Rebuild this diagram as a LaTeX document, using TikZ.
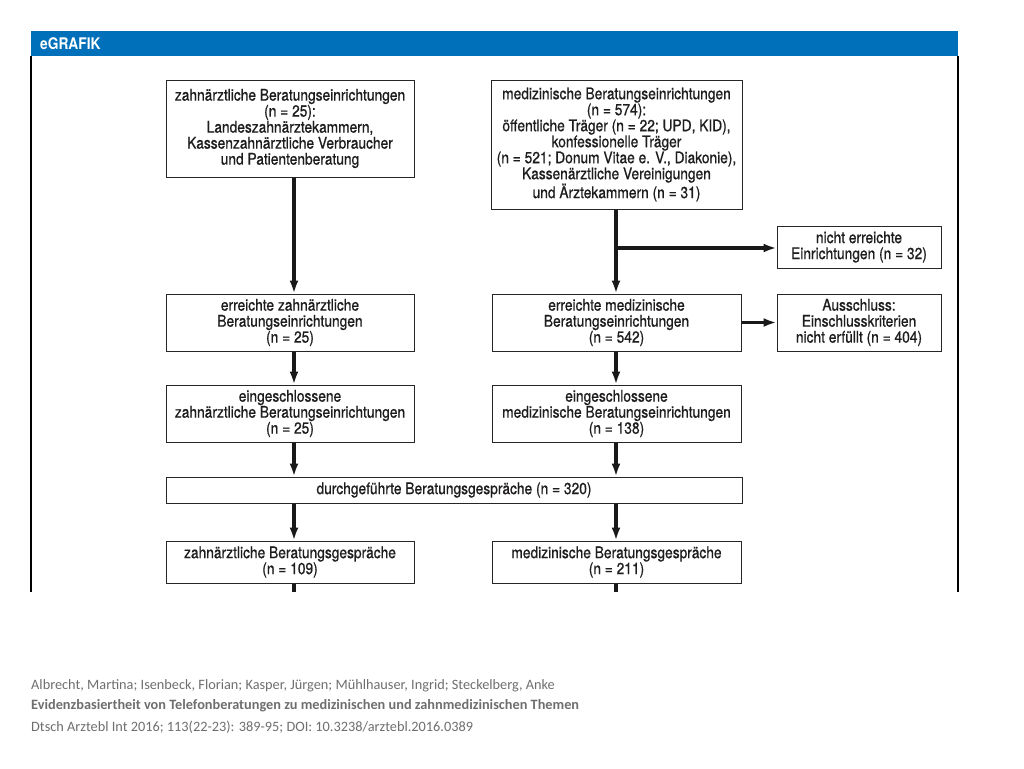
\documentclass[tikz,border=0pt]{standalone}
\usepackage{fontspec}
\setmainfont[FakeStretch=0.86]{TeX Gyre Heros}
\newfontfamily\boxfont[FakeStretch=0.86,FakeBold=0.8]{TeX Gyre Heros}
\newfontfamily\footfont{Carlito}
\usetikzlibrary{arrows.meta}
\definecolor{hdrblue}{RGB}{0,112,186}
\definecolor{boxtext}{RGB}{30,28,28}
\definecolor{footgray}{RGB}{110,110,110}
\tikzset{
  box/.style={draw=black!85, line width=1pt, fill=white, inner sep=0pt, align=center,
    font=\boxfont\fontsize{16}{16}\selectfont, text=boxtext},
  arr/.style={line width=3.2pt, black!90, -{Latex[length=13pt,width=9pt]}},
  plainln/.style={line width=3.2pt, black!90},
  frameln/.style={line width=1.4pt, black},
  foot/.style={anchor=west, inner sep=0pt, text=footgray, font=\footfont\fontsize{14.3}{16}\selectfont}
}
\begin{document}
\begin{tikzpicture}[x=1pt,y=-1pt]
\useasboundingbox (0,0) rectangle (1024,768);
% frame and header
\draw[frameln] (31,56) -- (31,592);
\draw[frameln] (958,56) -- (958,592);
\fill[hdrblue] (31,31) rectangle (958,56);
\node[anchor=west, text=white, inner sep=0pt, font=\bfseries\fontsize{16}{16}\selectfont] (hdr) at (40,44) {eGRAFIK};
% boxes
\node[box, minimum width=248pt, minimum height=97pt] (A) at (290,128.5)
 {zahnärztliche Beratungseinrichtungen\\(n = 25):\\Landeszahnärztekammern,\\Kassenzahnärztliche Verbraucher\\und Patientenberatung};
\node[box, minimum width=251pt, minimum height=129pt] (B) at (616.5,144.5)
 {medizinische Beratungseinrichtungen\\(n = 574):\\öffentliche Träger (n = 22; UPD, KID),\\konfessionelle Träger\\(n = 521; Donum Vitae e. V., Diakonie),\\Kassenärztliche Vereinigungen\\und Ärztekammern (n = 31)};
\node[box, minimum width=164pt, minimum height=42pt] (C) at (859,247)
 {nicht erreichte\\Einrichtungen (n = 32)};
\node[box, minimum width=248pt, minimum height=57pt] (D) at (290,322.5)
 {erreichte zahnärztliche\\Beratungseinrichtungen\\(n = 25)};
\node[box, minimum width=249pt, minimum height=57pt] (E) at (616.5,322.5)
 {erreichte medizinische\\Beratungseinrichtungen\\(n = 542)};
\node[box, minimum width=164pt, minimum height=57pt] (F) at (859,322.5)
 {Ausschluss:\\Einschlusskriterien\\nicht erfüllt (n = 404)};
\node[box, minimum width=248pt, minimum height=57pt] (G) at (290,413.5)
 {eingeschlossene\\zahnärztliche Beratungseinrichtungen\\(n = 25)};
\node[box, minimum width=249pt, minimum height=57pt] (H) at (616.5,413.5)
 {eingeschlossene\\medizinische Beratungseinrichtungen\\(n = 138)};
\node[box, minimum width=576pt, minimum height=26pt] (I) at (454,490)
 {durchgeführte Beratungsgespräche (n = 320)};
\node[box, minimum width=248pt, minimum height=42pt] (J) at (290,562)
 {zahnärztliche Beratungsgespräche\\(n = 109)};
\node[box, minimum width=249pt, minimum height=42pt] (K) at (616.5,562)
 {medizinische Beratungsgespräche\\(n = 211)};
% column coordinates
\coordinate (xl) at (294,0);
\coordinate (xr) at (616,0);
\coordinate (br) at (616,248);
\coordinate (endl) at (294,592);
\coordinate (endr) at (616,592);
% connectors
\draw[arr] (A.south -| xl) -- (D.north -| xl);
\draw[arr] (D.south -| xl) -- (G.north -| xl);
\draw[arr] (G.south -| xl) -- (I.north -| xl);
\draw[arr] (I.south -| xl) -- (J.north -| xl);
\draw[plainln] (J.south -| xl) -- (endl);
\draw[arr] (B.south -| xr) -- (E.north -| xr);
\draw[arr] (br) -- (br -| C.west);
\draw[arr] (E.east) -- (F.west);
\draw[arr] (E.south -| xr) -- (H.north -| xr);
\draw[arr] (H.south -| xr) -- (I.north -| xr);
\draw[arr] (I.south -| xr) -- (K.north -| xr);
\draw[plainln] (K.south -| xr) -- (endr);
% footer
\node[foot] (f1) at (31,686) {Albrecht, Martina; Isenbeck, Florian; Kasper, Jürgen; Mühlhauser, Ingrid; Steckelberg, Anke};
\node[foot, font=\footfont\bfseries\fontsize{14.3}{16}\selectfont] (f2) at (31,706) {Evidenzbasiertheit von Telefonberatungen zu medizinischen und zahnmedizinischen Themen};
\node[foot] (f3) at (31,727) {Dtsch Arztebl Int 2016; 113(22-23): 389-95; DOI: 10.3238/arztebl.2016.0389};
\end{tikzpicture}
\end{document}
